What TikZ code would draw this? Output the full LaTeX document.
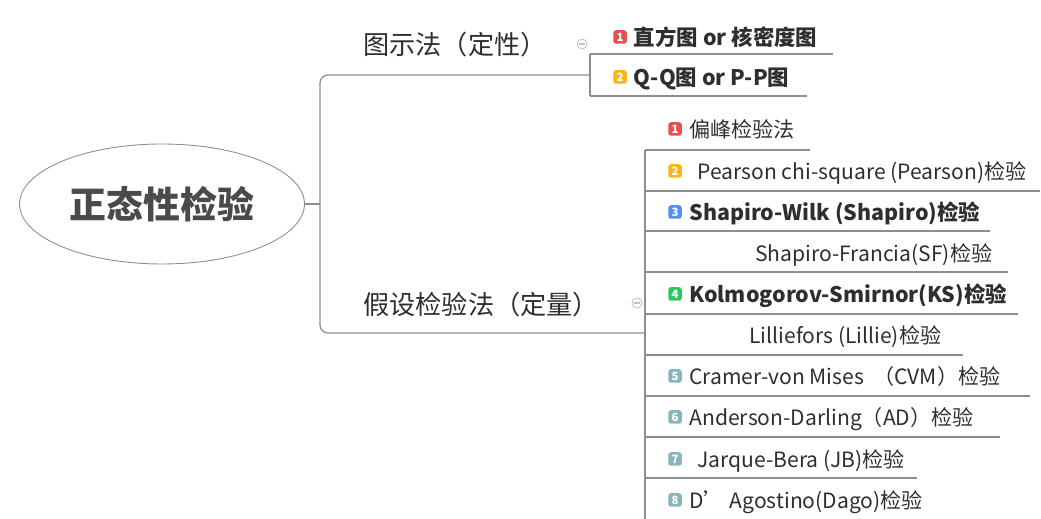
\documentclass[tikz,border=0pt]{standalone}
\usepackage{fontspec}
\setmainfont{Noto Sans CJK SC}
\usepackage{tikz}
\usetikzlibrary{calc}
\usetikzlibrary{shapes}
\usetikzlibrary{positioning}

\begin{document}
\begin{tikzpicture}[x=0.02cm,y=-0.02cm]
        \definecolor{g-linecolor}{HTML}{8E8E8E}
        \definecolor{g-textcolor}{HTML}{2E2E2E}
        \definecolor{g-rootcolor}{HTML}{4A4A4A}
        \definecolor{g-foldcolor}{HTML}{B9C3DA}
        \definecolor{g-red}{HTML}{E5504F}
        \definecolor{g-orange}{HTML}{FAB41C}
        \definecolor{g-blue}{HTML}{558FF2}
        \definecolor{g-green}{HTML}{2FC65E}
        \definecolor{g-teal}{HTML}{88B4BB}
        \tikzstyle{branch}=[draw=g-linecolor,line width=0.7pt]
        \tikzstyle{item}=[anchor=west,inner sep=0pt,text=g-textcolor,font=\fontsize{12}{12}\selectfont,text height=10.6pt,text depth=1.4pt]
        \tikzstyle{bold}=[font=\fontsize{12.2}{12}\selectfont\bfseries]
        \tikzstyle{badge}=[rounded corners=1.5pt,minimum size=0.27cm,inner sep=0pt,text=white,font=\fontsize{6.5}{6.5}\selectfont\bfseries]
        \tikzstyle{topic}=[anchor=west,inner sep=0pt,text=g-textcolor,font=\fontsize{14.9}{15}\selectfont,text height=13pt,text depth=1.8pt]
        \tikzstyle{fold}=[circle,draw=g-foldcolor,fill=white,minimum size=0.2cm,inner sep=0pt,line width=0.5pt,
            path picture={\draw[g-foldcolor,line width=0.6pt] ([xshift=-0.06cm]path picture bounding box.center) -- ([xshift=0.06cm]path picture bounding box.center);}]
        \useasboundingbox (0,0) rectangle (1041,519);

        \node [ellipse,draw=g-linecolor,line width=0.5pt,minimum width=5.7cm,minimum height=2.4cm,text=g-rootcolor,font=\fontsize{21}{21}\selectfont\bfseries] (root) at (162,204) {正态性检验};
        \node [topic] (m1) at (363,45) {图示法（定性）};
        \node [topic] (m2) at (363,305) {假设检验法（定量）};

        \coordinate (j0) at (320,204);
        \coordinate (j1) at (590,75);
        \coordinate (j2) at (645,333);
        \draw [branch] (root.east) -- (j0);
        \draw [branch,rounded corners=0.16cm] (j1) -- (320,75) -- (320,333) -- (j2);

        \node [fold] (f1) at (582,44) {};
        \node [fold] (f2) at (637,303) {};

        \node [badge,fill=g-red] (a1) at (620,37) {1};
        \node [item,bold,right=0.13cm of a1] (s1) {直方图 or 核密度图};
        \node [badge,fill=g-orange] (a2) at (620,77) {2};
        \node [item,bold,right=0.13cm of a2] (s2) {Q-Q图 or P-P图};
        \draw [branch] (590,54) -- (590,96);
        \draw [branch] (590,54) -- (833,54);
        \draw [branch] (590,96) -- (807,96);

        \node [badge,fill=g-red] (b1) at (675,129) {1};
        \node [item,right=0.14cm of b1] (t1) {偏峰检验法};
        \node [badge,fill=g-orange] (b2) at (675,171) {2};
        \node [item,right=0.3cm of b2] (t2) {Pearson chi-square (Pearson)检验};
        \node [badge,fill=g-blue] (b3) at (675,212) {3};
        \node [item,bold,right=0.14cm of b3] (t3) {Shapiro-Wilk (Shapiro)检验};
        \node [item] (t4) at (755,253) {Shapiro-Francia(SF)检验};
        \node [badge,fill=g-green] (b4) at (675,294) {4};
        \node [item,bold,right=0.14cm of b4] (t5) {Kolmogorov-Smirnor(KS)检验};
        \node [item] (t6) at (749,335) {Lilliefors (Lillie)检验};
        \node [badge,fill=g-teal] (b5) at (675,376) {5};
        \node [item,right=0.14cm of b5] (t7) {Cramer-von Mises \ （CVM）检验};
        \node [badge,fill=g-teal] (b6) at (675,417) {6};
        \node [item,right=0.14cm of b6] (t8) {Anderson-Darling（AD）检验};
        \node [badge,fill=g-teal] (b7) at (675,459) {7};
        \node [item,right=0.3cm of b7] (t9) {Jarque-Bera (JB)检验};
        \node [badge,fill=g-teal] (b8) at (675,500) {8};
        \node [item,right=0.14cm of b8] (t10) {D’ Agostino(Dago)检验};

        \draw [branch] (645,150) -- (645,519);
        \foreach \y/\e in {150/810,191/1040,231/990,272/1008,314/1018,355/963,396/1030,437/1000,478/917}
            \draw [branch] (645,\y) -- (\e,\y);
\end{tikzpicture}
\end{document}
